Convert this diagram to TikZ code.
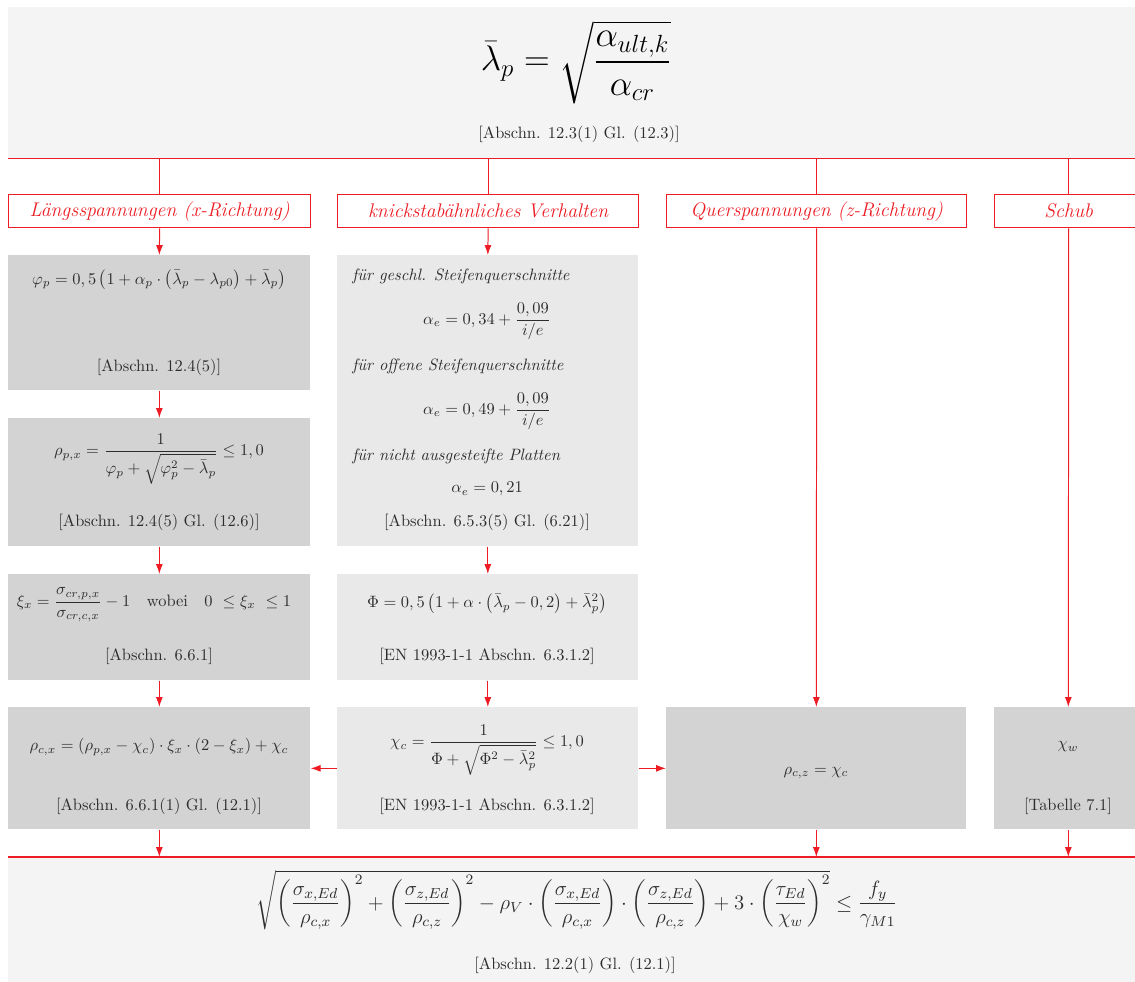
\documentclass[tikz,border=0pt]{standalone}
\usepackage{fix-cm}
\usepackage{amsmath}
\usepackage{fontspec}
\usetikzlibrary{arrows.meta}
\definecolor{rd}{RGB}{237,28,36}
\definecolor{topc}{RGB}{244,244,244}
\definecolor{darkc}{RGB}{211,211,211}
\definecolor{lightc}{RGB}{233,233,233}
\definecolor{txtc}{RGB}{45,45,45}
\newcommand\boxat[6]{\node[bx, fill=#6, minimum width={(#4-#2)*0.608pt}, minimum height={(#5-#3)*0.608pt}] (#1) at (#2,#3) {};}
\newcommand\hdrat[6]{\node[hdr, minimum width={(#4-#2)*0.608pt}, minimum height={(#5-#3)*0.608pt}] (#1) at (#2,#3) {#6};}
\tikzset{
  rl/.style={draw=rd, line width=0.6pt},
  arr/.style={draw=rd, line width=0.6pt, -{Latex[length=6pt,width=4.2pt]}},
  hdr/.style={draw=rd, line width=0.8pt, fill=white, text=rd, font=\large\itshape, inner sep=0pt, anchor=north west},
  bx/.style={inner sep=0pt, anchor=north west, draw=none},
  txt/.style={text=txtc, inner sep=0pt},
  itl/.style={text=txtc, inner sep=0pt, anchor=west, font=\itshape},
}
\begin{document}
\begin{tikzpicture}[x=0.608pt,y=-0.608pt]
\useasboundingbox (0,0) rectangle (1135,981);
\clip (0,0) rectangle (1135,981);
% top and bottom boxes
\boxat{T}{8}{7}{1142}{158}{topc}
\boxat{Bt}{8}{857}{1142}{995}{topc}
% headers
\hdrat{H1}{8}{194}{310}{227}{Längsspannungen (x-Richtung)}
\hdrat{H2}{337}{194}{638}{227}{knickstabähnliches Verhalten}
\hdrat{H3}{666}{194}{966}{227}{Querspannungen (z-Richtung)}
\hdrat{H4}{994}{194}{1142}{227}{Schub}
% column 1
\boxat{A1}{8}{255}{310}{390}{darkc}
\boxat{A2}{8}{418}{310}{546}{darkc}
\boxat{A3}{8}{574}{310}{680}{darkc}
\boxat{A4}{8}{707}{310}{829}{darkc}
% column 2
\boxat{B1}{337}{255}{638}{546}{lightc}
\boxat{B2}{337}{574}{638}{680}{lightc}
\boxat{B3}{337}{707}{638}{829}{lightc}
% columns 3, 4
\boxat{C1}{666}{707}{966}{829}{darkc}
\boxat{D1}{994}{707}{1142}{829}{darkc}
% lines
\draw[rl, line width=0.9pt] (T.south west) -- (T.south east);
\draw[rl, line width=0.9pt] (Bt.north west) -- (Bt.north east);
\foreach \h in {H1,H2,H3,H4} \draw[rl] (\h.north) -- (\h.north |- T.south);
% arrows
\draw[arr] (H1.south) -- (A1.north);
\draw[arr] (A1.south) -- (A2.north);
\draw[arr] (A2.south) -- (A3.north);
\draw[arr] (A3.south) -- (A4.north);
\draw[arr] (H2.south) -- (B1.north);
\draw[arr] (B1.south) -- (B2.north);
\draw[arr] (B2.south) -- (B3.north);
\draw[arr] (H3.south) -- (C1.north);
\draw[arr] (H4.south) -- (D1.north);
\draw[arr] (B3.west) -- (A4.east);
\draw[arr] (B3.east) -- (C1.west);
\draw[arr] (A4.south) -- (A4.south |- Bt.north);
\draw[arr] (C1.south) -- (C1.south |- Bt.north);
\draw[arr] (D1.south) -- (D1.south |- Bt.north);
% top texts
\node[txt, text=black, font=\fontsize{21.6}{26}\selectfont] (tf) at (576,62) {$\displaystyle \bar{\lambda}_p=\sqrt{\frac{\alpha_{ult,k}}{\alpha_{cr}}}$};
\node[txt] (tc) at (579,134) {[Abschn. 12.3(1) Gl. (12.3)]};
% column 1 texts
\node[txt] (a1f) at (159,280) {$\varphi_p=0,5\,\bigl(1+\alpha_p\cdot\bigl(\bar{\lambda}_p-\lambda_{p0}\bigr)+\bar{\lambda}_p\bigr)$};
\node[txt] (a1c) at (159,367) {[Abschn. 12.4(5)]};
\node[txt] (a2f) at (159,459) {$\displaystyle \rho_{p,x}=\frac{1}{\varphi_p+\sqrt{\varphi_p^2-\bar{\lambda}_p}}\leq 1,0$};
\node[txt] (a2c) at (159,522) {[Abschn. 12.4(5) Gl. (12.6)]};
\node[txt] (a3f) at (154,605) {$\displaystyle \xi_x=\frac{\sigma_{cr,p,x}}{\sigma_{cr,c,x}}-1\quad\text{wobei}\quad 0\ \leq\xi_x\ \leq 1$};
\node[txt] (a3c) at (159,656) {[Abschn. 6.6.1]};
\node[txt] (a4f) at (159,747) {$\rho_{c,x}=\left(\rho_{p,x}-\chi_c\right)\cdot\xi_x\cdot\left(2-\xi_x\right)+\chi_c$};
\node[txt] (a4c) at (159,806) {[Abschn. 6.6.1(1) Gl. (12.1)]};
% column 2 texts
\node[itl] (b1t1) at (352,276) {für geschl. Steifenquerschnitte};
\node[txt] (b1f1) at (487,321) {$\displaystyle \alpha_e=0,34+\frac{0,09}{i/e}$};
\node[itl] (b1t2) at (352,366) {für offene Steifenquerschnitte};
\node[txt] (b1f2) at (487,411) {$\displaystyle \alpha_e=0,49+\frac{0,09}{i/e}$};
\node[itl] (b1t3) at (352,456) {für nicht ausgesteifte Platten};
\node[txt] (b1f3) at (487,489) {$\alpha_e=0,21$};
\node[txt] (b1c) at (487,522) {[Abschn. 6.5.3(5) Gl. (6.21)]};
\node[txt] (b2f) at (487,604) {$\Phi=0,5\,\bigl(1+\alpha\cdot\bigl(\bar{\lambda}_p-0,2\bigr)+\bar{\lambda}_p^2\bigr)$};
\node[txt] (b2c) at (487,656) {[EN 1993-1-1 Abschn. 6.3.1.2]};
\node[txt] (b3f) at (487,750) {$\displaystyle \chi_c=\frac{1}{\Phi+\sqrt{\Phi^2-\bar{\lambda}_p^2}}\leq 1,0$};
\node[txt] (b3c) at (487,806) {[EN 1993-1-1 Abschn. 6.3.1.2]};
% columns 3, 4 texts
\node[txt] (c1f) at (816,773) {$\rho_{c,z}=\chi_c$};
\node[txt] (d1f) at (1068,747) {$\chi_w$};
\node[txt] (d1c) at (1068,806) {[Tabelle 7.1]};
% bottom texts
\node[txt, font=\fontsize{12.6}{15}\selectfont] (btf) at (577,900) {$\displaystyle \sqrt{\biggl(\frac{\sigma_{x,Ed}}{\rho_{c,x}}\biggr)^2+\biggl(\frac{\sigma_{z,Ed}}{\rho_{c,z}}\biggr)^2-\rho_V\cdot\biggl(\frac{\sigma_{x,Ed}}{\rho_{c,x}}\biggr)\cdot\biggl(\frac{\sigma_{z,Ed}}{\rho_{c,z}}\biggr)+3\cdot\biggl(\frac{\tau_{Ed}}{\chi_w}\biggr)^2}\leq\frac{f_y}{\gamma_{M1}}$};
\node[txt] (btc) at (575,965) {[Abschn. 12.2(1) Gl. (12.1)]};
\end{tikzpicture}
\end{document}
